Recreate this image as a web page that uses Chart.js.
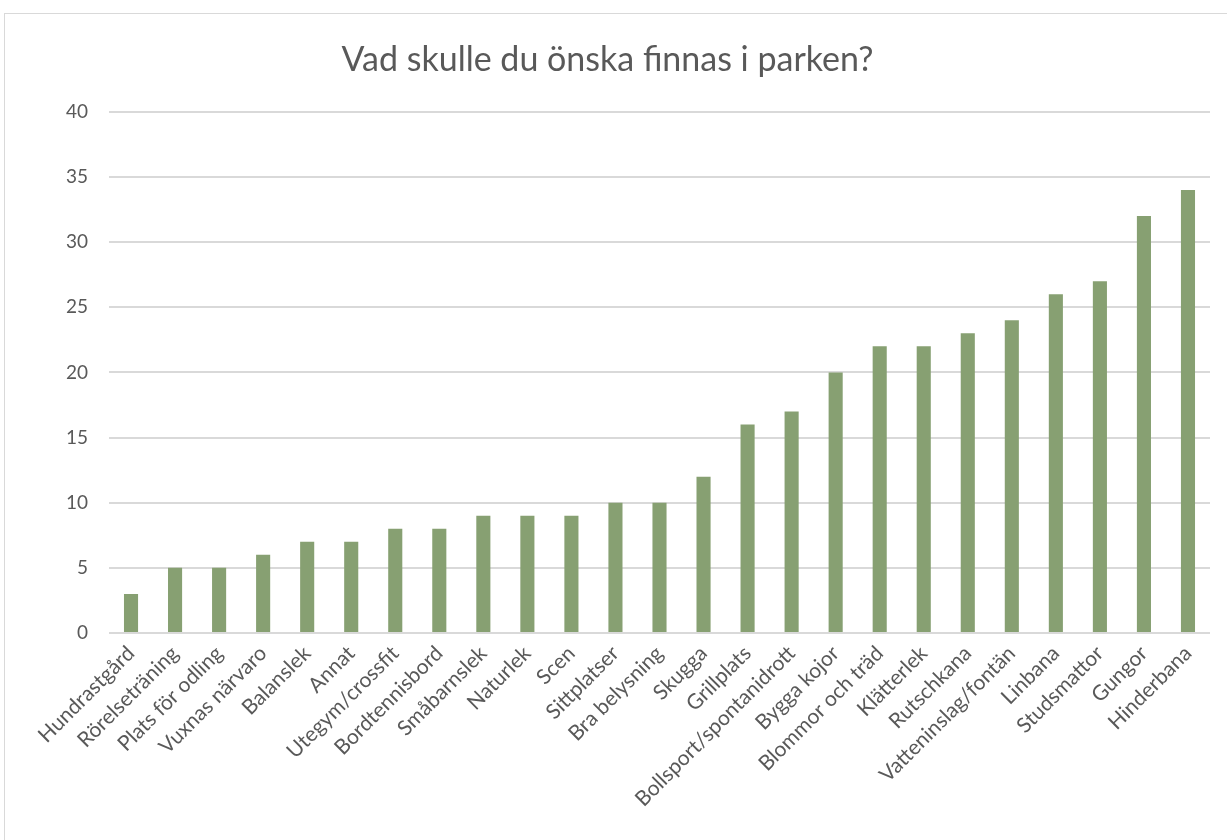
<!DOCTYPE html>
<html>
<head>
<meta charset="utf-8">
<script src="https://cdn.jsdelivr.net/npm/chart.js@4"></script>
<style>
  html, body { margin: 0; padding: 0; background: #fff; overflow: hidden; }
  #box {
    position: absolute; left: 4px; top: 13px;
    width: 1260px; height: 840px;
    border: 1px solid #d9d9d9; background: #fff;
  }
  #chart { position: absolute; left: 0; top: 0; }
</style>
</head>
<body>
<div id="box"><canvas id="chart" width="1240" height="826"></canvas></div>
<script>
// data
const titleText = "Vad skulle du önska finnas i parken?";
const categories = [
  "Hundrastgård", "Rörelseträning", "Plats för odling", "Vuxnas närvaro",
  "Balanslek", "Annat", "Utegym/crossfit", "Bordtennisbord", "Småbarnslek",
  "Naturlek", "Scen", "Sittplatser", "Bra belysning", "Skugga", "Grillplats",
  "Bollsport/spontanidrott", "Bygga kojor", "Blommor och träd", "Klätterlek",
  "Rutschkana", "Vatteninslag/fontän", "Linbana", "Studsmattor", "Gungor", "Hinderbana"
];
const answers = [3, 5, 5, 6, 7, 7, 8, 8, 9, 9, 9, 10, 10, 12, 16, 17, 20, 22, 22, 23, 24, 26, 27, 32, 34];
const yMin = 0, yMax = 40, yStep = 5;

const textColor = "#595959";
const gridColor = "#d9d9d9";
const barColor = "#87a072";
const fontFam = "Lato, 'Open Sans', sans-serif";

const ctx = document.getElementById("chart").getContext("2d");
chart = new Chart(ctx, {
  type: "bar",
  data: {
    labels: categories,
    datasets: [{
      label: "Antal",
      data: answers,
      backgroundColor: barColor,
      borderWidth: 0,
      categoryPercentage: 1,
      barPercentage: 0.32
    }]
  },
  options: {
    responsive: false,
    animation: false,
    layout: { padding: { left: 0, right: 35, top: 0, bottom: 0 } },
    plugins: {
      legend: { display: false },
      tooltip: { enabled: false },
      title: {
        display: true,
        text: titleText,
        color: textColor,
        font: { family: fontFam, size: 34, weight: "normal" },
        padding: { top: 26, bottom: 31 }
      }
    },
    scales: {
      x: {
        grid: { display: false, drawTicks: false },
        border: { display: false },
        ticks: {
          color: textColor,
          font: { family: fontFam, size: 21 },
          maxRotation: 45,
          minRotation: 45,
          autoSkip: false,
          padding: 8
        },
        afterFit: (scale) => { scale.height = 207; }
      },
      y: {
        min: yMin,
        max: yMax,
        grid: { color: gridColor, lineWidth: 2, drawTicks: false },
        border: { display: false },
        ticks: {
          stepSize: yStep,
          color: textColor,
          font: { family: fontFam, size: 19 },
          padding: 21
        },
        afterFit: (scale) => { scale.width = 104; }
      }
    }
  }
});
</script>
</body>
</html>
